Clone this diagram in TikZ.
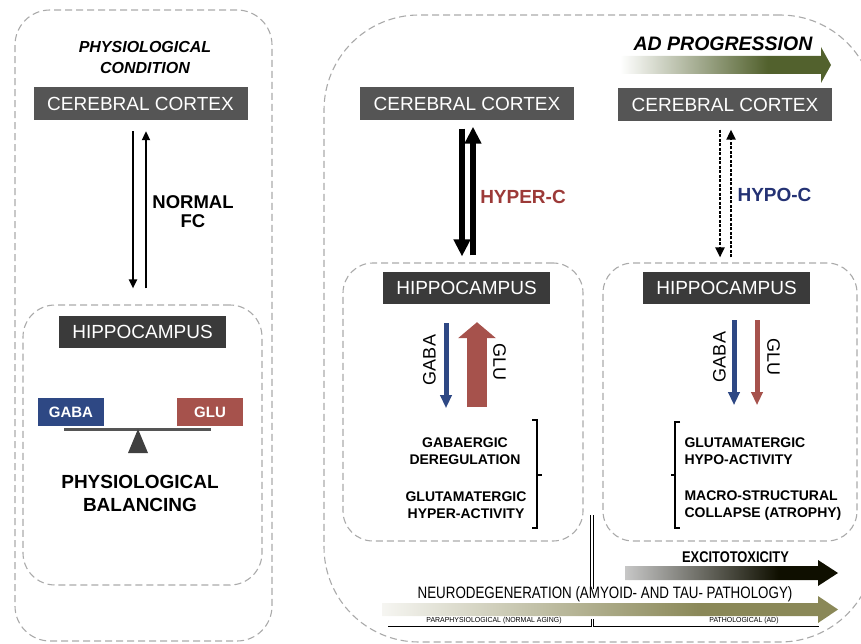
\documentclass[tikz,border=0pt]{standalone}
\usepackage{fontspec}
\setmainfont{Liberation Sans}
\usetikzlibrary{arrows.meta, positioning, calc}

\definecolor{boxgray}{RGB}{85,85,85}
\definecolor{hipgray}{RGB}{58,58,58}
\definecolor{gabablue}{RGB}{46,72,132}
\definecolor{glured}{RGB}{166,82,76}
\definecolor{hyperred}{RGB}{156,58,56}
\definecolor{hypoblue}{RGB}{36,50,116}
\definecolor{adolive}{RGB}{82,97,45}
\definecolor{neuroolive}{RGB}{138,136,88}
\definecolor{framegray}{RGB}{170,170,170}

% fading bars (path box = 25bp..75bp)
\pgfdeclarehorizontalshading{adfade}{100bp}{color(0bp)=(white); color(25bp)=(white); color(60bp)=(adolive); color(100bp)=(adolive)}
\pgfdeclarehorizontalshading{excitefade}{100bp}{color(0bp)=(black!22); color(25bp)=(black!22); color(61bp)=(black!88!olive); color(100bp)=(black!88!olive)}
\pgfdeclarehorizontalshading{neurofade}{100bp}{color(0bp)=(neuroolive!8); color(25bp)=(neuroolive!8); color(60bp)=(neuroolive); color(100bp)=(neuroolive)}

\begin{document}
\begin{tikzpicture}[
    x=1pt, y=-1pt,
    >={Triangle[length=9pt, width=8pt]},
    dashframe/.style={draw=framegray, dash pattern=on 7pt off 4pt, line width=1.1pt, inner sep=0pt},
    ctxbox/.style={fill=boxgray, text=white, minimum width=214pt, minimum height=33pt, inner sep=0pt, font=\fontsize{19pt}{19pt}\selectfont},
    hipbox/.style={ctxbox, fill=hipgray, minimum width=167pt, minimum height=32pt},
    nttag/.style={text=white, minimum width=66pt, minimum height=28pt, inner sep=0pt, font=\bfseries\fontsize{15pt}{15pt}\selectfont},
    heading/.style={align=center, font=\bfseries\fontsize{19pt}{23pt}\selectfont},
    note/.style={align=center, font=\bfseries\fontsize{14pt}{17pt}\selectfont},
    axlabel/.style={font=\fontsize{18pt}{18pt}\selectfont},
    tinytag/.style={font=\fontsize{7.3pt}{7.3pt}\selectfont, xscale=0.95},
    fc/.style={->, line width=2pt},
    hyper/.style={-{Triangle[length=17pt, width=16pt]}, line width=6.5pt},
    hypo/.style={-{Triangle[length=10pt, width=9pt]}, line width=2.2pt, dash pattern=on 3pt off 1.5pt},
    gabaflow/.style={-{Triangle[length=13pt, width=11pt]}, line width=5pt, draw=gabablue},
    gluflow/.style={-{Triangle[length=13pt, width=11pt]}, line width=5pt, draw=glured},
    bracket/.style={line width=1.3pt}
]
    \useasboundingbox (0,0) rectangle (861,644);
    \clip (0,0) rectangle (861,644);

    % === Physiological condition (left) ===
    \node[dashframe, minimum width=257pt, minimum height=631pt, rounded corners=35pt] (outL) at (143.5,325.5) {};
    \node[heading, font=\bfseries\itshape\fontsize{16pt}{21pt}\selectfont] (physcond) at (145,57.5) {PHYSIOLOGICAL\\CONDITION};
    \node[ctxbox] (ctxL) at (140.5,103.5) {CEREBRAL CORTEX};
    \node[dashframe, minimum width=239pt, minimum height=280pt, rounded corners=32pt] (areaL) at (142.5,445) {};
    \node[hipbox] (hipL) at (142.5,331.5) {HIPPOCAMPUS};

    % cortex <-> hippocampus
    \draw[fc, shorten <=11pt, shorten >=16pt] ([xshift=-7.5pt]ctxL.south) -- ([xshift=-7.5pt]ctxL.south |- areaL.north);
    \draw[fc, shorten <=16pt, shorten >=11pt] ([xshift=5.5pt]ctxL.south |- areaL.north) -- ([xshift=5.5pt]ctxL.south);
    \node[heading, font=\bfseries\fontsize{18.5pt}{19pt}\selectfont] (normfc) at (193,212) {NORMAL\\FC};

    % balance
    \node[nttag, fill=gabablue] (gabaL) at (71,412) {GABA};
    \node[nttag, fill=glured] (gluL) at (210,412) {GLU};
    \coordinate (pivot) at (138,429);
    \draw[draw=boxgray, line width=3pt] (64,429) -- (211,429);
    \fill[fill=black!75] (pivot) -- (148,453) -- (128,453) -- cycle;
    \node[heading] (balance) at (140,493.5) {PHYSIOLOGICAL\\BALANCING};

    % === AD progression (right) ===
    \node[dashframe, minimum width=551pt, minimum height=627pt, rounded corners=95pt] (outR) at (599.5,328.5) {};
    \node[heading, font=\bfseries\itshape\fontsize{19.5pt}{20pt}\selectfont] (adprog) at (723,44) {AD PROGRESSION};
    \shade[shading=adfade] (620,56) -- (821,56) -- (821,47) -- (831,65) -- (821,83) -- (821,74) -- (620,74) -- cycle;

    \node[ctxbox] (ctxM) at (467,104) {CEREBRAL CORTEX};
    \node[ctxbox] (ctxR) at (725,105) {CEREBRAL CORTEX};
    \node[dashframe, minimum width=240pt, minimum height=278pt, rounded corners=30pt] (areaM) at (463,402) {};
    \node[dashframe, minimum width=254pt, minimum height=278pt, rounded corners=30pt] (areaR) at (730,402) {};
    \node[hipbox] (hipM) at (466.5,288) {HIPPOCAMPUS};
    \node[hipbox] (hipR) at (726.5,287.5) {HIPPOCAMPUS};

    % hyper-connectivity
    \draw[hyper, shorten <=8pt, shorten >=6pt] ([xshift=-5pt]ctxM.south) -- ([xshift=-5pt]ctxM.south |- areaM.north);
    \draw[hyper, shorten <=7pt, shorten >=6pt] ([xshift=6pt]ctxM.south |- areaM.north) -- ([xshift=6pt]ctxM.south);
    \node[heading, text=hyperred] (hyperc) at (523,197) {HYPER-C};

    % hypo-connectivity
    \draw[hypo, shorten <=8pt, shorten >=5pt] ([xshift=-5pt]ctxR.south) -- ([xshift=-5pt]ctxR.south |- areaR.north);
    \draw[hypo, shorten <=5pt, shorten >=8pt] ([xshift=6pt]ctxR.south |- areaR.north) -- ([xshift=6pt]ctxR.south);
    \node[heading, text=hypoblue] (hypoc) at (774.5,195) {HYPO-C};

    % GABA / GLU, early stage
    \draw[gabaflow] ([xshift=-20.5pt, yshift=-19pt]hipM.south) -- ++(0,85);
    \draw[glured, line width=20pt, -{Triangle[length=16pt, width=37pt]}] ([xshift=10.5pt, yshift=-103pt]hipM.south) -- ++(0,-85);
    \node[axlabel, rotate=90] (gabaMlab) at (429.5,360) {GABA};
    \node[axlabel, rotate=-90] (gluMlab) at (499.5,362) {GLU};
    \node[note] (gabaerg) at (465,451.5) {GABAERGIC\\DEREGULATION};
    \node[note] (gluhyper) at (466,505.5) {GLUTAMATERGIC\\HYPER-ACTIVITY};
    \draw[bracket] (532,420) -- (537,420) -- (537,528) -- (532,528) (537,475) -- (542,475);

    % GABA / GLU, late stage
    \draw[gabaflow] ([xshift=7.5pt, yshift=-16.5pt]hipR.south) -- ++(0,85);
    \draw[gluflow] ([xshift=30.5pt, yshift=-16.5pt]hipR.south) -- ++(0,85);
    \node[axlabel, rotate=90] (gabaRlab) at (719.5,357) {GABA};
    \node[axlabel, rotate=-90] (gluRlab) at (773.5,357) {GLU};
    \node[note, anchor=west, align=left] (gluhypo) at (681,451.5) {GLUTAMATERGIC\\HYPO-ACTIVITY};
    \node[note, anchor=west, align=left] (atrophy) at (681,506) {MACRO-STRUCTURAL\\COLLAPSE (ATROPHY)};
    \draw[bracket] (680,422) -- (675,422) -- (675,528) -- (680,528) (675,475) -- (671,475);

    % === Timeline ===
    \draw[double, double distance=2pt, line width=1pt] (592,515) -- (592,589);
    \node[font=\bfseries\fontsize{15.5pt}{16pt}\selectfont, xscale=0.83] (excite) at (735.5,557) {EXCITOTOXICITY};
    \shade[shading=excitefade] (625,566) -- (818,566) -- (818,560) -- (838,573) -- (818,586) -- (818,580) -- (625,580) -- cycle;
    \node[font=\fontsize{16.5pt}{17pt}\selectfont, xscale=0.81] (neuro) at (605,594) {NEURODEGENERATION (AMYOID- AND TAU- PATHOLOGY)};
    \shade[shading=neurofade] (382,603) -- (818,603) -- (818,596) -- (838,609.5) -- (818,623) -- (818,616) -- (382,616) -- cycle;
    \draw[line width=1pt] (388,626.5) -- (819,626.5);
    \draw[double, double distance=1.5pt, line width=0.7pt] (592.5,619) -- (592.5,626.5);
    \node[tinytag] (paraphys) at (494,620.5) {PARAPHYSIOLOGICAL (NORMAL AGING)};
    \node[tinytag] (pathol) at (744,620.5) {PATHOLOGICAL (AD)};

\end{tikzpicture}
\end{document}
